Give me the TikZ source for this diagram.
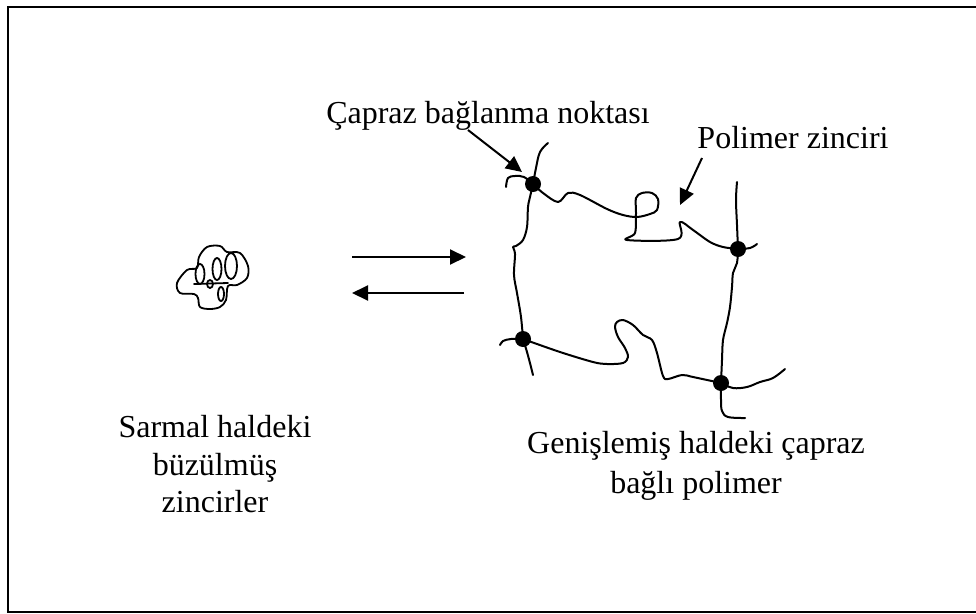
\documentclass[tikz,border=0pt]{standalone}
\usepackage{fontspec}
\setmainfont{Liberation Serif}
\usetikzlibrary{arrows.meta}
\begin{document}
\begin{tikzpicture}[x=1pt,y=-1pt,
  lbl/.style={font=\fontsize{32}{38}\selectfont, inner sep=0pt, anchor=base},
  chain/.style={line width=2pt, line cap=round, line join=round},
  coil/.style={line width=1.8pt, line cap=round, line join=round},
  dot/.style={circle, fill=black, minimum size=16pt, inner sep=0pt},
  arr/.style={line width=2pt, -{Triangle[length=16pt,width=15pt]}},
]
\useasboundingbox (0,0) rectangle (976,613);

% outer frame (right side runs off the page)
\draw[line width=2pt] (990,6.5) -- (8,6.5) -- (8,611.5) -- (990,611.5);

% contracted coil
\draw[coil] plot[smooth cycle, tension=0.55] coordinates {(177,283) (187,270) (197,268) (199,257) (207,247) (220,246) (227,252) (240,253) (248,266) (247,278) (237,285) (228,286) (226,300) (220,307) (210,309) (200,307) (198,298) (194,294) (180,293)};
\draw[coil] (200,274) ellipse [x radius=4.5, y radius=10];
\draw[coil] (217,269) ellipse [x radius=4.5, y radius=11];
\draw[coil] (231,266) ellipse [x radius=6, y radius=13];
\draw[coil] (221,294) ellipse [x radius=3, y radius=7];
\draw[coil] (210,284) ellipse [x radius=3, y radius=4];
\draw[coil] (194,284) -- (228,283);

% equilibrium arrows
\coordinate (fwdS) at (352,257);
\coordinate (fwdE) at (466,257);
\coordinate (revS) at (464,293);
\coordinate (revE) at (352,293);
\draw[arr] (fwdS) -- (fwdE);
\draw[arr] (revS) -- (revE);

% cross-link points
\node[dot] (A) at (533,184) {};
\node[dot] (B) at (738,249) {};
\node[dot] (C) at (523,339) {};
\node[dot] (D) at (721,383) {};

% chains between cross-links
\draw[chain] plot[smooth, tension=0.55] coordinates {(A.center) (543,193) (558,202) (568,193) (580,195) (607,209) (623,215) (637,217) (650,214) (657,210) (658,199) (652,193) (642,193) (636,198) (636,213) (635,233) (627,240) (678,239) (680,222) (693,230) (710,242) (723,247) (B.center)};
\draw[chain] plot[smooth, tension=0.55] coordinates {(A.center) (530,197) (528,207) (527,227) (523,240) (516,246) (513,247) (515,254) (514,275) (517,293) (521,317) (C.center)};
\draw[chain] plot[smooth, tension=0.55] coordinates {(B.center) (737,263) (733,273) (732,287) (730,307) (727,323) (723,340) (722,360) (D.center)};
\draw[chain] plot[smooth, tension=0.55] coordinates {(C.center) (560,352) (593,362) (607,364) (623,363) (628,357) (625,348) (618,337) (615,327) (617,322) (623,320) (633,325) (643,335) (652,340) (657,353) (663,376) (668,379) (682,375) (693,377) (D.center)};

% free chain ends
\draw[chain] plot[smooth, tension=0.6] coordinates {(A.center) (536,168) (540,152) (548,143)};
\draw[chain] plot[smooth, tension=0.6] coordinates {(A.center) (524,177) (515,176) (508,178) (506,187)};
\draw[chain] plot[smooth, tension=0.6] coordinates {(B.center) (737,225) (736,200) (737,182)};
\draw[chain] plot[smooth, tension=0.6] coordinates {(B.center) (750,248) (757,244)};
\draw[chain] plot[smooth, tension=0.6] coordinates {(C.center) (511,339) (503,341) (500,345)};
\draw[chain] plot[smooth, tension=0.6] coordinates {(C.center) (527,352) (531,367) (533,375)};
\draw[chain] plot[smooth, tension=0.6] coordinates {(D.center) (733,388) (747,387) (760,382) (773,378) (785,369)};
\draw[chain] plot[smooth, tension=0.6] coordinates {(D.center) (721,400) (722,411) (728,417) (745,418)};

% labels
\node[lbl] (capraz) at (488,123) {Çapraz bağlanma noktası};
\node[lbl] (zincir) at (793,148) {Polimer zinciri};
\node[lbl] (sar1) at (215,437) {Sarmal haldeki};
\node[lbl] (sar2) at (215,475) {büzülmüş};
\node[lbl] (sar3) at (215,512) {zincirler};
\node[lbl] (gen1) at (696,453) {Genişlemiş haldeki çapraz};
\node[lbl] (gen2) at (696,493) {bağlı polimer};

% pointers from labels
\coordinate (capS) at (468,130);
\coordinate (capT) at (522,172);
\coordinate (zinS) at (702,158);
\coordinate (zinT) at (680,205);
\draw[arr] (capS) -- (capT);
\draw[arr] (zinS) -- (zinT);
\end{tikzpicture}
\end{document}
